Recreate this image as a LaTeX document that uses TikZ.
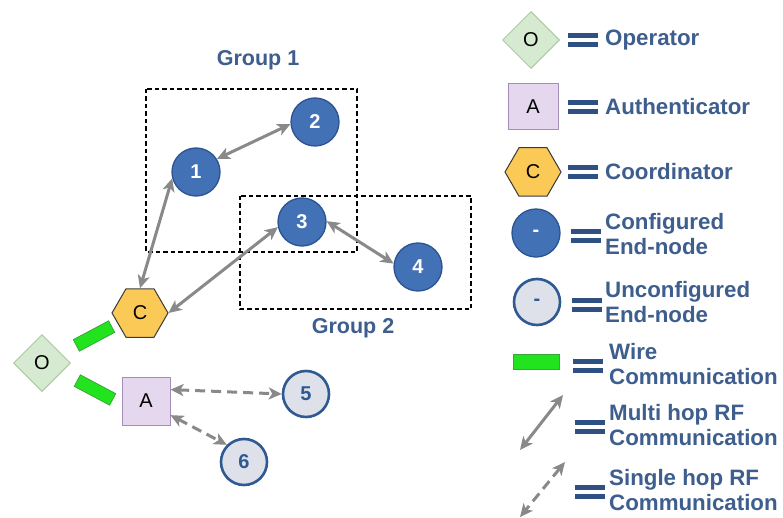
\documentclass[tikz,border=0pt]{standalone}
\usepackage{fontspec}
\setmainfont{Liberation Sans}
\usetikzlibrary{shapes.geometric,arrows.meta}
\definecolor{cfgblue}{HTML}{4271B6}
\definecolor{cfgborder}{HTML}{2C5391}
\definecolor{ugray}{HTML}{DEE1E9}
\definecolor{uborder}{HTML}{2E5993}
\definecolor{hexfill}{HTML}{FBC956}
\definecolor{hexborder}{HTML}{3A3A3A}
\definecolor{dfill}{HTML}{D6E9D1}
\definecolor{dborder}{HTML}{A9CBA0}
\definecolor{sfill}{HTML}{E5D8EE}
\definecolor{sborder}{HTML}{A48DB6}
\definecolor{wgreen}{HTML}{22E41E}
\definecolor{wborder}{HTML}{3AA63A}
\definecolor{agray}{HTML}{898989}
\definecolor{tblue}{HTML}{3E5E8E}
\definecolor{eqblue}{HTML}{2E5082}
\tikzset{
  cfg/.style={circle, fill=cfgblue, draw=cfgborder, line width=1.3pt, minimum size=48pt, inner sep=0pt, text=white, font=\bfseries\fontsize{20}{20}\selectfont},
  ucfg/.style={circle, fill=ugray, draw=uborder, line width=2.6pt, minimum size=46pt, inner sep=0pt, text=uborder, font=\bfseries\fontsize{20}{20}\selectfont},
  hexnode/.style={regular polygon, regular polygon sides=6, fill=hexfill, draw=hexborder, line width=1pt, minimum size=56pt, inner sep=0pt, font=\fontsize{20}{20}\selectfont},
  opnode/.style={diamond, aspect=1, fill=dfill, draw=dborder, line width=1pt, minimum width=57pt, minimum height=57pt, inner sep=0pt, font=\fontsize{20}{20}\selectfont},
  authnode/.style={rectangle, fill=sfill, draw=sborder, line width=1pt, minimum width=48pt, minimum height=48pt, inner sep=0pt, font=\fontsize{20}{20}\selectfont},
  wirebar/.style={rectangle, fill=wgreen, draw=wborder, line width=0.8pt, minimum width=40pt, minimum height=13pt, inner sep=0pt},
  multirf/.style={draw=agray, line width=3pt, {Stealth[length=13pt,width=12pt,inset=3.5pt]}-{Stealth[length=13pt,width=12pt,inset=3.5pt]}},
  singlerf/.style={multirf, dash pattern=on 10pt off 6pt},
  grouplbl/.style={text=tblue, font=\bfseries\fontsize{21.5}{21.5}\selectfont},
  grpbox/.style={draw=black, line width=1.2pt, dash pattern=on 4.5pt off 3pt},
  legtext/.style={anchor=west, align=left, text=tblue, inner sep=0pt, font=\bfseries\fontsize{22.3}{24.5}\selectfont},
  eqbar/.style={fill=eqblue}
}
\newcommand{\eqsign}[2]{\fill[eqbar] (#1,#2-7) rectangle ++(30,5); \fill[eqbar] (#1,#2+2) rectangle ++(30,5);}
\begin{document}
\begin{tikzpicture}[x=1pt,y=-1pt]
\useasboundingbox (0,0) rectangle (783,518);
\fill[white] (0,0) rectangle (783,518);
% group boxes
\draw[grpbox] (146,89) rectangle (357,252);
\draw[grpbox] (240,196) rectangle (471,309);
\node[grouplbl] (g1) at (258,60) {Group 1};
\node[grouplbl] (g2) at (353,328) {Group 2};
% nodes
\node[cfg] (n1) at (196,172) {1};
\node[cfg] (n2) at (315,122) {2};
\node[cfg] (n3) at (302,222) {3};
\node[cfg] (n4) at (418,267) {4};
\node[hexnode] (C) at (140,313) {C};
\node[opnode] (O) at (42,363) {O};
\node[authnode] (A) at (146,401) {A};
\node[ucfg] (n5) at (306,394) {5};
\node[ucfg] (n6) at (244,462) {6};
\node[wirebar, rotate=28] (w1) at (94,336) {};
\node[wirebar, rotate=-28] (w2) at (95,390) {};
% connectors
\draw[multirf] (n1.32) -- (n2.185);
\draw[multirf] (n1.195) -- (C.north);
\draw[multirf] (n3.192) -- (C.east);
\draw[multirf] (n3.2) -- (n4.172);
\draw[singlerf] (A.25) -- (n5.west);
\draw[singlerf] (A.-30) -- (n6.135);
% legend
\node[opnode] (lo) at (531,40) {O};
\eqsign{568}{40}
\node[legtext] (to) at (605,40) {Operator};
\node[authnode, minimum width=50pt, minimum height=46pt] (la) at (533,107) {A};
\eqsign{568}{107}
\node[legtext] (ta) at (605,107) {Authenticator};
\node[hexnode] (lc) at (533,172) {C};
\eqsign{568}{172}
\node[legtext] (tc) at (605,172) {Coordinator};
\node[cfg] (lcf) at (536,233) {-};
\eqsign{571}{236}
\node[legtext] (tcf) at (605,234) {Configured\\End-node};
\node[ucfg] (luc) at (537,302) {-};
\eqsign{572}{305}
\node[legtext] (tuc) at (605,302) {Unconfigured\\End-node};
\node[wirebar, minimum width=46pt, minimum height=15pt] (lw) at (536,362) {};
\eqsign{573}{366}
\node[legtext] (tw) at (609,364) {Wire\\Communication};
\coordinate (m1) at (563,395);
\coordinate (m2) at (520,450);
\draw[multirf] (m1) -- (m2);
\eqsign{575}{427}
\node[legtext] (tm) at (609,425) {Multi hop RF\\Communication};
\coordinate (s1) at (565,462);
\coordinate (s2) at (520,517);
\draw[singlerf] (s1) -- (s2);
\eqsign{575}{492}
\node[legtext] (ts) at (609,490) {Single hop RF\\Communication};
\end{tikzpicture}
\end{document}
